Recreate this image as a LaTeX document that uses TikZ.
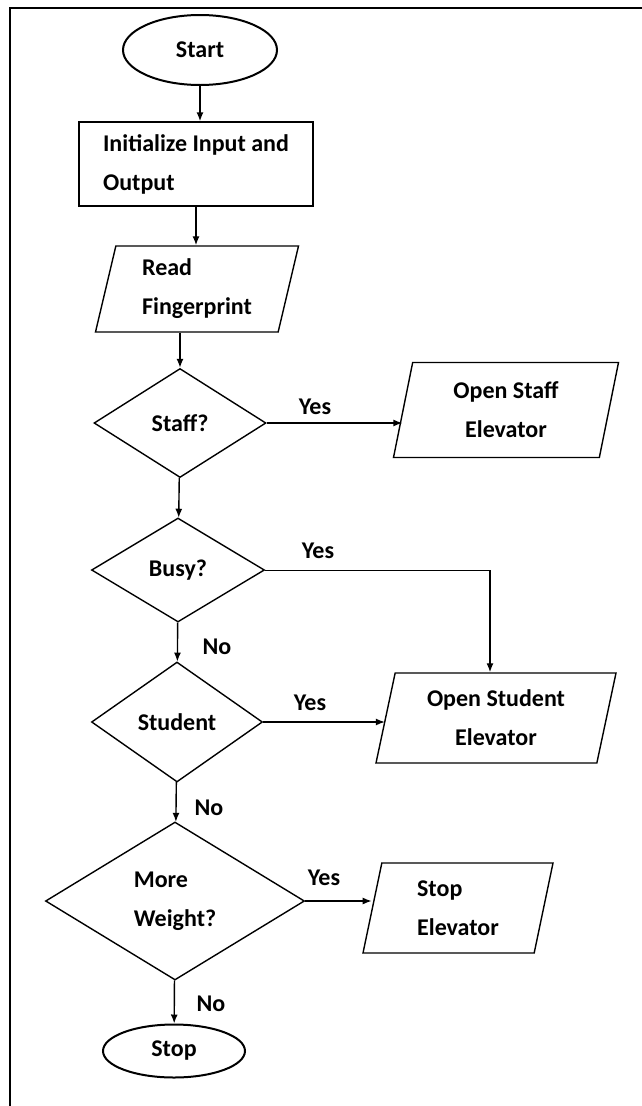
\documentclass[tikz,border=0pt]{standalone}
\usepackage{fontspec}
\setmainfont{Carlito}
\usetikzlibrary{shapes.geometric,arrows.meta}

\tikzset{
  base/.style={draw, line width=1.4pt, font=\fontsize{24}{39}\selectfont\bfseries},
  terminal/.style={base, ellipse, line width=2pt},
  process/.style={base, rectangle, align=left},
  inout/.style={base, trapezium, trapezium left angle=73, trapezium right angle=107, trapezium stretches body},
  decision/.style={base, diamond, inner sep=0pt, align=left},
  answer/.style={font=\fontsize{24}{30}\selectfont\bfseries},
}

\begin{document}
\begin{tikzpicture}[x=1pt, y=-1pt, >={Latex[length=9pt,width=7pt]}, line width=1.4pt]
	\useasboundingbox (0,0) rectangle (642,1106);
	\draw[line width=2.6pt] (10,1106) -- (10,8) -- (642,8);

	\node[terminal, minimum width=154pt, minimum height=70pt] at (200,50) (start) {Start};
	\node[process, minimum width=234pt, minimum height=84pt] at (196,164) (init) {Initialize Input and\\Output};
	\node[inout, minimum width=203pt, minimum height=86pt, align=left] at (197,289) (read) {Read\\Fingerprint};
	\node[decision, minimum width=172pt, minimum height=109pt] at (180,423) (staff) {Staff?};
	\node[inout, minimum width=225pt, minimum height=95pt, align=center] at (506,410) (staffopen) {Open Staff\\Elevator};
	\node[decision, minimum width=173pt, minimum height=104pt] at (178,570) (busy) {Busy?};
	\node[decision, minimum width=171pt, minimum height=120pt] at (177,722) (student) {Student};
	\node[inout, minimum width=240pt, minimum height=90pt, align=center] at (496,718) (studentopen) {Open Student\\Elevator};
	\node[decision, minimum width=259pt, minimum height=158pt] at (175,901) (weight) {More\\Weight?};
	\node[inout, minimum width=190pt, minimum height=90pt, align=left] at (458,908) (stopelev) {Stop\\Elevator};
	\node[terminal, minimum width=142pt, minimum height=53pt] at (174,1051) (stop) {Stop};
	\coordinate (turn) at (490,570);

	\node[answer] at (315,407) (yesstaff) {Yes};
	\node[answer] at (318,551) (yesbusy) {Yes};
	\node[answer] at (217,647) (nobusy) {No};
	\node[answer] at (310,703) (yesstudent) {Yes};
	\node[answer] at (209,808) (nostudent) {No};
	\node[answer] at (324,878) (yesweight) {Yes};
	\node[answer] at (211,1004) (noweight) {No};

    \path[->] (start) edge (start |- init.north);
    \path[->] (init) edge (init |- read.north);
    \path[->] (staff |- read.south) edge (staff);
    \path[->] (staff.east) edge (staff.east -| staffopen.left side);
    \path[->] (staff) edge (busy);
    \path[draw, line width=0.7pt] (busy.east) -- (turn);
    \path[->] (turn) edge (turn |- studentopen.north);
    \path[->] (busy) edge (student);
    \path[->] (student.east) edge (student.east -| studentopen.left side);
    \path[->] (student) edge (weight);
    \path[->] (weight.east) edge (weight.east -| stopelev.left side);
    \path[->] (weight) edge (stop);
\end{tikzpicture}
\end{document}
